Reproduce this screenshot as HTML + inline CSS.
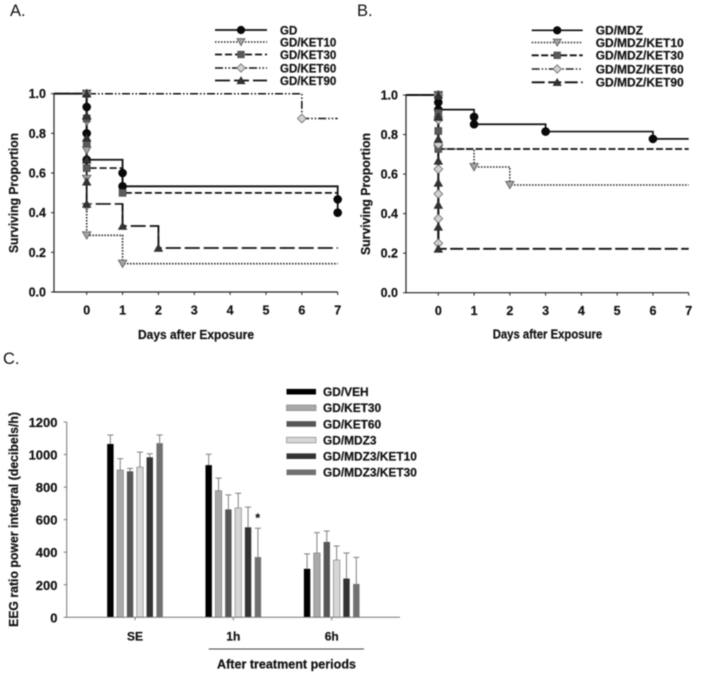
<!DOCTYPE html>
<html lang="en">
<head>
<meta charset="utf-8">
<title>Survival and EEG charts</title>
<style>
html,body{margin:0;padding:0;background:#fff;width:705px;height:676px;overflow:hidden}
svg{display:block;filter:blur(.4px)}
text{font-family:"Liberation Sans",sans-serif;fill:#111}
.b{font-weight:bold;stroke:#111;stroke-width:.2px}
</style>
</head>
<body>
<svg id="fig" width="705" height="676" viewBox="0 0 705 676" xmlns="http://www.w3.org/2000/svg">
<text x="10" y="16" font-size="16.5">A.</text>
<text x="357" y="16" font-size="16.5">B.</text>
<text x="3" y="364" font-size="16.5">C.</text>
</svg>
<script>
// ---- Panel A data ----
const aGdDays = [0,0,0,0,1,1,7,7];
const aGdSurvival = [1,0.933,0.8,0.667,0.6,0.533,0.467,0.4];
const aKet10Days = [0,0,0,0,0,0,1];
const aKet10Survival = [1,0.857,0.714,0.571,0.429,0.286,0.143];
const aKet30Days = [0,0,0,0,1];
const aKet30Survival = [1,0.875,0.75,0.625,0.5];
const aKet60Days = [0,6];
const aKet60Survival = [1,0.875];
const aKet90Days = [0,0,0,0,0,0,1,2];
const aKet90Survival = [1,0.889,0.778,0.667,0.556,0.444,0.333,0.222];
// ---- Panel B data ----
const bMdzDays = [0,0,0,1,1,3,6];
const bMdzSurvival = [1,0.963,0.926,0.889,0.852,0.815,0.778];
const bKet10Days = [0,0,0,1,2];
const bKet10Survival = [1,0.87,0.727,0.636,0.545];
const bKet30Days = [0,0,0,0];
const bKet30Survival = [1,0.909,0.818,0.727];
const bKet60Days = [0,0,0,0,0,0,0];
const bKet60Survival = [1,0.875,0.75,0.625,0.5,0.375,0.25];
const bKet90Days = [0,0,0,0,0,0,0,0];
const bKet90Survival = [1,0.889,0.778,0.667,0.556,0.444,0.333,0.222];
// ---- Shared axis labels ----
const dayTicks = [0,1,2,3,4,5,6,7];
const survivalTicks = [0,0.2,0.4,0.6,0.8,1];
const aLegendLabels = ['GD','GD/KET10','GD/KET30','GD/KET60','GD/KET90'];
const bLegendLabels = ['GD/MDZ','GD/MDZ/KET10','GD/MDZ/KET30','GD/MDZ/KET60','GD/MDZ/KET90'];
// ---- Panel C data ----
const eegPeriods = ['SE','1h','6h'];
const eegSeriesLabels = ['GD/VEH','GD/KET30','GD/KET60','GD/MDZ3','GD/MDZ3/KET10','GD/MDZ3/KET30'];
const eegSE = [1065,905,897,923,983,1070];
const eegSEUpper = [1120,975,915,1015,1005,1120];
const eeg1h = [935,778,663,672,553,370];
const eeg1hUpper = [1002,855,752,762,677,547];
const eeg6h = [298,395,463,352,238,205];
const eeg6hUpper = [390,520,530,438,395,368];
const eegTicks = [0,200,400,600,800,1000,1200];

const svg = document.getElementById('fig');
const NS = 'http://www.w3.org/2000/svg';
function mk(tag, props, parent){
  const e = document.createElementNS(NS, tag);
  for (const k in props) e.setAttribute(k, props[k]);
  (parent || svg).appendChild(e);
  return e;
}
function label(str, props, parent){
  const e = mk('text', props, parent);
  e.textContent = str;
  return e;
}
function marker(kind, x, y, parent, scale){
  const s = scale || 1;
  let e;
  if (kind === 'circle') {
    e = mk('circle', {cx:x, cy:y, r:4*s, fill:'#0a0a0a', stroke:'#000', 'stroke-width':.6}, parent);
  } else if (kind === 'down') {
    e = mk('polygon', {points:`${x-4.2*s},${y-3.5*s} ${x+4.2*s},${y-3.5*s} ${x},${y+3.8*s}`, fill:'#a5a5a5', stroke:'#555', 'stroke-width':.8}, parent);
  } else if (kind === 'square') {
    e = mk('rect', {x:x-3.5*s, y:y-3.5*s, width:7*s, height:7*s, fill:'#5a5a5a', stroke:'#444', 'stroke-width':.6}, parent);
  } else if (kind === 'diamond') {
    e = mk('polygon', {points:`${x},${y-4.4*s} ${x+4.4*s},${y} ${x},${y+4.4*s} ${x-4.4*s},${y}`, fill:'#d2d2d2', stroke:'#666', 'stroke-width':.8}, parent);
  } else {
    e = mk('polygon', {points:`${x-4.2*s},${y+3.5*s} ${x+4.2*s},${y+3.5*s} ${x},${y-3.9*s}`, fill:'#333', stroke:'#222', 'stroke-width':.6}, parent);
  }
  
  
}

function survivalPanel(cfg){
  const X = d => cfg.x0 + d * (cfg.x7 - cfg.x0) / 7;
  const Y = v => cfg.y0 + v * (cfg.y1 - cfg.y0);
  const g = mk('g', {});
  
  

  const ax = mk('path', {d:`M${cfg.left} ${Y(1)-.5}V${cfg.y0}H${cfg.x7}`, fill:'none', stroke:'#222', 'stroke-width':1.2}, g);
  
  

  survivalTicks.forEach(t => {
    const tk = mk('line', {x1:cfg.left-3, x2:cfg.left, y1:Y(t), y2:Y(t), stroke:'#222'}, g);
    
    
    const tl = label(t.toFixed(1), {x:cfg.left-8, y:Y(t)+4.5, 'font-size':12.5, 'text-anchor':'end', class:'b'}, g);
    
    
  });
  dayTicks.forEach(t => {
    const tk = mk('line', {x1:X(t), x2:X(t), y1:cfg.y0, y2:cfg.y0+3, stroke:'#222'}, g);
    
    
    const tl = label(String(t), {x:X(t), y:cfg.y0+22.5, 'font-size':12.5, 'text-anchor':'middle', class:'b'}, g);
    
    
  });

  const xt = label('Days after Exposure', {x:cfg.xTitleX, y:cfg.xTitleY, 'font-size':12.5, class:'b', textLength:cfg.xTitleW, lengthAdjust:'spacingAndGlyphs'}, g);
  
  
  const yt = label('Surviving Proportion', {transform:`translate(${cfg.yTitleX} ${cfg.yTitleY}) rotate(-90)`, 'font-size':12.5, class:'b', textLength:cfg.yTitleW, lengthAdjust:'spacingAndGlyphs'}, g);
  
  

  cfg.series.forEach((s, i) => {
    let d = `M${cfg.left} ${Y(s.v[0])}`;
    s.d.forEach((day, j) => {
      d += `H${X(day)}V${Y(s.v[j])}`;
    });
    if (s.tail) d += `H${X(7)}`;
    const line = mk('path', {d, fill:'none', stroke:s.color, 'stroke-width':s.w, 'stroke-dasharray':s.dash}, g);
    
    
    if (s.solidDrops) {
      // Same-day drops read as solid verticals because the markers sit so close together
      let drops = '';
      s.d.forEach((day, j) => {
        if (j > 0) drops += `M${X(day)} ${Y(s.v[j-1])}V${Y(s.v[j])}`;
      });
      const dropLine = mk('path', {d:drops, fill:'none', stroke:s.color, 'stroke-width':s.w}, g);
      
      
    }
  });
  cfg.series.forEach(s => {
    s.d.forEach((day, j) => marker(s.kind, X(day), Y(s.v[j]), g));
  });

  cfg.legend.forEach((txt, i) => {
    const s = cfg.series[i], ly = cfg.legY[i];
    const ll = mk('line', {x1:cfg.legX1, x2:cfg.legX2, y1:ly, y2:ly, stroke:s.color, 'stroke-width':s.w, 'stroke-dasharray':s.dash}, g);
    
    
    marker(s.kind, (cfg.legX1+cfg.legX2)/2, ly, g, .95);
    const lt = label(txt, {x:cfg.legTx, y:ly+4.3, 'font-size':cfg.legFs, class:'b'}, g);
    
    
  });
}

survivalPanel({
  name:'panel-a-survival-chart', left:54, x0:86.7, x7:337.7, y0:292, y1:93.7,
  xTitleX:138, xTitleY:339, xTitleW:116, yTitleX:18, yTitleY:253, yTitleW:120,
  legX1:215, legX2:267, legTx:280, legFs:11.5, legY:[30,42,54.5,68,80.5],
  legend:aLegendLabels,
  series:[
    {d:aGdDays, v:aGdSurvival, kind:'circle', color:'#111', w:1.8, dash:'none', tail:false, solidDrops:false},
    {d:aKet10Days, v:aKet10Survival, kind:'down', color:'#222', w:1.6, dash:'1.5 1.5', tail:true, solidDrops:false},
    {d:aKet30Days, v:aKet30Survival, kind:'square', color:'#111', w:1.7, dash:'7 3', tail:true, solidDrops:true},
    {d:aKet60Days, v:aKet60Survival, kind:'diamond', color:'#111', w:1.5, dash:'8 2 1.5 2 1.5 2', tail:true, solidDrops:false},
    {d:aKet90Days, v:aKet90Survival, kind:'up', color:'#111', w:1.7, dash:'15 4', tail:true, solidDrops:true}
  ]
});
survivalPanel({
  name:'panel-b-survival-chart', left:406, x0:438.3, x7:688.7, y0:292.7, y1:95,
  xTitleX:492.7, xTitleY:338.5, xTitleW:109.5, yTitleX:370, yTitleY:255, yTitleW:122,
  legX1:531.7, legX2:582.7, legTx:595.7, legFs:12, legY:[30.3,42.5,55.3,69,82.3],
  legend:bLegendLabels,
  series:[
    {d:bMdzDays, v:bMdzSurvival, kind:'circle', color:'#111', w:1.7, dash:'none', tail:true, solidDrops:false},
    {d:bKet10Days, v:bKet10Survival, kind:'down', color:'#222', w:1.5, dash:'1.5 1.5', tail:true, solidDrops:false},
    {d:bKet30Days, v:bKet30Survival, kind:'square', color:'#111', w:1.8, dash:'7 2.5', tail:true, solidDrops:true},
    {d:bKet60Days, v:bKet60Survival, kind:'diamond', color:'#222', w:1.5, dash:'8 2 1.5 2 1.5 2', tail:false, solidDrops:true},
    {d:bKet90Days, v:bKet90Survival, kind:'up', color:'#111', w:1.9, dash:'13 3.5', tail:true, solidDrops:true}
  ]
});

// ---- Panel C ----
(function(){
  const barFills = ['#000','#a9a9a9','#565656','#d6d6d6','#333','#717171'];
  const left = 66.7, right = 400, y0 = 617.3, yTop = 422, yMax = 1200;
  const Y = v => y0 - v * (y0 - yTop) / yMax;
  const groupCenters = [135, 233.3, 331.7];
  const pitch = 9.85, barW = 6.4;
  const Xc = (g, i) => groupCenters[g] + (i - 2.5) * pitch;
  const values = [eegSE, eeg1h, eeg6h];
  const uppers = [eegSEUpper, eeg1hUpper, eeg6hUpper];
  const g = mk('g', {});
  
  

  values.forEach((vals, gi) => {
    vals.forEach((v, i) => {
      const x = Xc(gi, i);
      const eb = mk('path', {d:`M${x} ${Y(v)}V${Y(uppers[gi][i])}M${x-3} ${Y(uppers[gi][i])}H${x+3}`, fill:'none', stroke:'#808080', 'stroke-width':1}, g);
      
      
      const r = mk('rect', {x:x-barW/2, y:Y(v), width:barW, height:y0-Y(v), fill:barFills[i], stroke:i===3||i===1?'#777':'none', 'stroke-width':.6}, g);
      
      
    });
  });

  const ax = mk('path', {d:`M${left} ${yTop}V${y0}H${right}`, fill:'none', stroke:'#777', 'stroke-width':1}, g);
  
  

  eegTicks.forEach(t => {
    const tk = mk('line', {x1:left-3, x2:left, y1:Y(t), y2:Y(t), stroke:'#777'}, g);
    
    
    const tl = label(String(t), {x:57.5, y:Y(t)+5, 'font-size':13, 'text-anchor':'end', class:'b'}, g);
    
    
  });
  eegPeriods.forEach((p, i) => {
    const tk = mk('line', {x1:groupCenters[i], x2:groupCenters[i], y1:y0, y2:y0+3, stroke:'#777'}, g);
    
    
    const tl = label(p, {x:groupCenters[i], y:640.5, 'font-size':12, 'text-anchor':'middle', class:'b'}, g);
    
    
  });

  const yt = label('EEG ratio power integral (decibels/h)', {transform:'translate(18 627) rotate(-90)', 'font-size':12.5, class:'b', textLength:215, lengthAdjust:'spacingAndGlyphs'}, g);
  
  

  const star = label('*', {x:257.7, y:522, 'font-size':12, 'text-anchor':'middle', class:'b'}, g);
  
  

  const br = mk('line', {x1:208.7, x2:364, y1:649, y2:649, stroke:'#444', 'stroke-width':1}, g);
  
  
  const ap = label('After treatment periods', {x:217, y:668.5, 'font-size':12.5, class:'b', textLength:139, lengthAdjust:'spacingAndGlyphs'}, g);
  
  

  eegSeriesLabels.forEach((txt, i) => {
    const ly = 391.7 + i * 16.12;
    const sw = mk('rect', {x:286.5, y:ly-2.8, width:29.5, height:5.6, fill:barFills[i], stroke:i===3||i===1?'#777':'none', 'stroke-width':.6}, g);
    
    
    const lt = label(txt, {x:323, y:ly+4.4, 'font-size':11.9, class:'b'}, g);
    
    
  });
})();
</script>
</body>
</html>
